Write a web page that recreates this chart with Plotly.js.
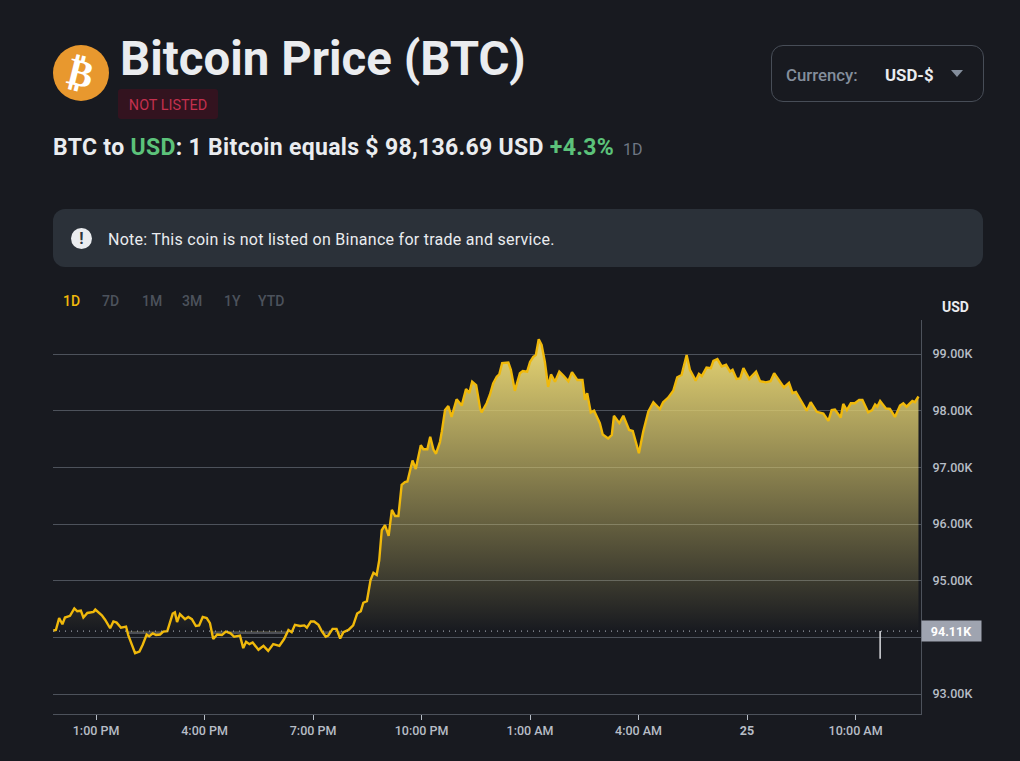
<!DOCTYPE html>
<html>
<head>
<meta charset="utf-8">
<script src="https://cdn.plot.ly/plotly-3.0.1.min.js"></script>
<style>
    body { margin: 0; background: #181a20; font-family: Roboto, sans-serif; }
    #page { position: relative; width: 1020px; height: 761px; overflow: hidden; }
    #page > div, #page > span { position: absolute; white-space: nowrap; }
    #chart { left: 0; top: 0; width: 1020px; height: 761px; }
    #logo { left: 53px; top: 45px; width: 56px; height: 56px; border-radius: 50%; background: #e8982e; color: #fff; font: bold 38px/56px "DejaVu Sans"; text-align: center; }
    #logo span { display: inline-block; transform: rotate(14deg); }
    #title { left: 120px; top: 31px; font-size: 47.4px; line-height: 56px; font-weight: 700; color: #eaecef; }
    #badge { left: 118px; top: 89px; width: 100px; height: 30px; border-radius: 3px; background: #33131f; color: #c4304e; font-size: 14.4px; line-height: 33px; text-align: center; }
    #rate { left: 53px; top: 133px; font-size: 23px; line-height: 30px; font-weight: 700; letter-spacing: 0.32px; color: #eaecef; }
    #rate i { font-style: normal; color: #5cc27a; }
    #rate small { font-size: 16px; font-weight: 400; letter-spacing: 0; color: #6f7784; margin-left: 3px; }
    #note { left: 53px; top: 209px; width: 930px; height: 58px; border-radius: 12px; background: #2b3139; }
    #noteIcon { left: 71px; top: 228px; width: 21px; height: 21px; border-radius: 50%; background: #eaecef; color: #2b3139; font: bold 16px/21px Roboto; text-align: center; }
    #noteText { left: 108px; top: 229px; font-size: 16px; line-height: 22px; letter-spacing: 0.27px; color: #eaecef; }
    .tab { top: 292px; font-size: 14px; line-height: 18px; font-weight: 500; color: #4c525c; }
    #currency { left: 771px; top: 45px; width: 211px; height: 55px; border: 1px solid #474d57; border-radius: 12px; }
    #curLabel { left: 786px; top: 64px; font-size: 16.8px; line-height: 22px; font-weight: 500; color: #848e9c; }
    #curValue { left: 885px; top: 64px; font-size: 16.8px; line-height: 22px; font-weight: 700; color: #eaecef; }
    #caret { left: 951px; top: 70px; width: 0; height: 0; border-left: 6px solid transparent; border-right: 6px solid transparent; border-top: 7px solid #848e9c; }
</style>
</head>
<body>
<div id="page">
    <div id="chart"></div>
    <div id="logo"><span>₿</span></div>
    <div id="title">Bitcoin Price (BTC)</div>
    <div id="badge">NOT LISTED</div>
    <div id="rate">BTC to <i>USD</i>: 1 Bitcoin equals $ 98,136.69 USD <i>+4.3%</i> <small>1D</small></div>
    <div id="note"></div>
    <div id="noteIcon">!</div>
    <div id="noteText">Note: This coin is not listed on Binance for trade and service.</div>
    <span class="tab" style="left:63px;color:#f0b90b">1D</span>
    <span class="tab" style="left:102px">7D</span>
    <span class="tab" style="left:142px">1M</span>
    <span class="tab" style="left:182px">3M</span>
    <span class="tab" style="left:224px">1Y</span>
    <span class="tab" style="left:258px">YTD</span>
    <div id="currency"></div>
    <div id="curLabel">Currency:</div>
    <div id="curValue">USD-$</div>
    <div id="caret"></div>
</div>
<script>
// hours counted from midnight of the first day, price in thousands of USD
let hours = [
    11.82, 11.89, 11.98, 12.07, 12.14, 12.28, 12.40, 12.48, 12.58, 12.65, 12.76, 12.93, 12.98,
    13.16, 13.25, 13.39, 13.48, 13.57, 13.69, 13.83, 13.89, 13.99,
    14.08, 14.20, 14.29, 14.40, 14.47, 14.57, 14.66, 14.77, 14.86, 14.97,
    15.03, 15.12, 15.18, 15.24, 15.32, 15.46, 15.55, 15.65, 15.76, 15.85, 15.95,
    16.06, 16.15, 16.24, 16.35, 16.48, 16.59, 16.72, 16.82, 16.98,
    17.07, 17.15, 17.24, 17.33, 17.49, 17.63, 17.76, 17.90,
    18.07, 18.20, 18.32, 18.41, 18.50, 18.64, 18.76, 18.83, 18.94,
    19.03, 19.15, 19.24, 19.35, 19.42, 19.54, 19.65, 19.75, 19.84, 19.98,
    20.11, 20.22, 20.32, 20.39, 20.49, 20.59, 20.67, 20.76, 20.83, 20.90, 20.99,
    21.09, 21.18, 21.27, 21.36, 21.45, 21.54, 21.61, 21.75, 21.84, 21.98,
    22.05, 22.16, 22.24, 22.33, 22.40, 22.51, 22.56, 22.65, 22.74, 22.83, 22.97,
    23.11, 23.23, 23.32, 23.40, 23.51, 23.62, 23.66, 23.80, 23.89, 23.98,
    24.08, 24.15, 24.23, 24.40, 24.47, 24.58, 24.72, 24.80, 24.92,
    25.00, 25.09, 25.16, 25.24, 25.32, 25.41, 25.50, 25.58, 25.69, 25.81, 25.92,
    26.06, 26.16, 26.31, 26.45, 26.52, 26.58, 26.68, 26.77, 26.93,
    27.01, 27.16, 27.26, 27.32, 27.47, 27.58, 27.74, 27.84, 27.95,
    28.01, 28.13, 28.27, 28.41, 28.59, 28.68, 28.82, 28.96,
    29.07, 29.19, 29.33, 29.42, 29.58, 29.67, 29.75, 29.88,
    30.00, 30.07, 30.18, 30.30, 30.42, 30.53, 30.60, 30.71, 30.81, 30.90,
    31.06, 31.25, 31.36, 31.52, 31.65, 31.75, 31.86,
    32.02, 32.16, 32.26, 32.35, 32.51, 32.65, 32.76, 32.93,
    33.11, 33.25, 33.34, 33.43, 33.59, 33.66, 33.76, 33.87, 33.98,
    34.10, 34.19, 34.35, 34.46, 34.54, 34.60, 34.68, 34.84, 34.95,
    35.09, 35.23, 35.32, 35.41, 35.57, 35.64, 35.74
];
let prices = [
    94.12, 94.13, 94.34, 94.23, 94.35, 94.38, 94.51, 94.46, 94.47, 94.35, 94.43, 94.45, 94.49,
    94.39, 94.31, 94.16, 94.28, 94.26, 94.17, 94.19, 94.04, 93.87,
    93.72, 93.75, 93.87, 94.05, 94.02, 94.07, 94.04, 94.05, 94.10, 94.11,
    94.22, 94.42, 94.44, 94.27, 94.41, 94.32, 94.36, 94.32, 94.20, 94.21, 94.36,
    94.34, 94.25, 93.97, 94.05, 94.04, 94.10, 94.07, 94.01, 94.03,
    93.81, 93.92, 93.88, 93.91, 93.78, 93.85, 93.76, 93.88,
    93.85, 93.97, 94.13, 94.09, 94.22, 94.20, 94.21, 94.17, 94.28,
    94.28, 94.22, 94.11, 94.01, 94.03, 94.15, 94.15, 93.98, 94.09, 94.13,
    94.21, 94.42, 94.46, 94.61, 94.64, 95.01, 95.14, 95.10, 95.36, 95.89, 95.98,
    95.79, 96.25, 96.14, 96.14, 96.69, 96.74, 96.75, 97.12, 96.97, 97.39,
    97.32, 97.32, 97.54, 97.31, 97.24, 97.45, 97.63, 98.01, 98.08, 97.89, 98.20,
    98.09, 98.38, 98.31, 98.51, 98.45, 98.04, 97.97, 98.13, 98.28, 98.48,
    98.60, 98.64, 98.84, 98.85, 98.72, 98.35, 98.66, 98.70, 98.69,
    98.86, 98.95, 98.98, 99.26, 99.16, 98.86, 98.42, 98.64, 98.51, 98.69, 98.62,
    98.52, 98.68, 98.54, 98.54, 98.19, 98.31, 97.97, 98.00, 97.78,
    97.58, 97.51, 97.57, 97.91, 97.78, 97.91, 97.66, 97.64, 97.39,
    97.25, 97.63, 97.98, 98.15, 98.03, 98.15, 98.23, 98.35,
    98.59, 98.63, 98.98, 98.72, 98.53, 98.65, 98.61, 98.76,
    98.75, 98.88, 98.91, 98.78, 98.81, 98.69, 98.72, 98.56, 98.57, 98.75,
    98.56, 98.69, 98.52, 98.50, 98.52, 98.66, 98.56,
    98.41, 98.49, 98.31, 98.33, 98.16, 98.00, 98.15, 97.98,
    97.95, 97.82, 98.01, 98.02, 97.88, 98.12, 98.01, 98.13, 98.13,
    98.19, 98.19, 97.97, 98.01, 98.11, 98.07, 98.17, 98.04, 98.03,
    97.89, 98.09, 98.13, 98.07, 98.17, 98.15, 98.25
];
let basePrice = 94.11;
let baseHours = [11.82, 35.74];
let markerHour = 34.68;
let markerLow = 93.62;

let xTicks = [13, 16, 19, 22, 25, 28, 31, 34];
let xLabels = ['1:00 PM', '4:00 PM', '7:00 PM', '10:00 PM', '1:00 AM', '4:00 AM', '<b>25</b>', '10:00 AM'];
let yTicks = [93, 94, 95, 96, 97, 98, 99];
let yLabels = ['93.00K', '', '95.00K', '96.00K', '97.00K', '98.00K', '99.00K'];

let baseTrace = {
    x: baseHours,
    y: [basePrice, basePrice],
    mode: 'lines',
    line: { width: 0 },
    hoverinfo: 'skip'
};

let priceTrace = {
    x: hours,
    y: prices,
    mode: 'lines',
    fill: 'tonexty',
    fillgradient: {
        type: 'vertical',
        start: 94,
        stop: 99.3,
        // the thin grey band just under the base line shows where the price dips below it
        colorscale: [
            [0, 'rgba(90,92,98,0)'],
            [0.0094, 'rgba(90,92,98,0)'],
            [0.0113, 'rgba(90,92,98,0.8)'],
            [0.017, 'rgba(90,92,98,0.8)'],
            [0.0208, 'rgba(222,205,112,0)'],
            [0.94, 'rgba(222,205,112,1)'],
            [1, 'rgba(222,205,112,1)']
        ]
    },
    line: { color: '#f0b90b', width: 2.4 }
};

let layout = {
    width: 1020,
    height: 761,
    margin: { l: 53, r: 99, t: 320, b: 47 },
    paper_bgcolor: 'rgba(0,0,0,0)',
    plot_bgcolor: 'rgba(0,0,0,0)',
    showlegend: false,
    font: { family: 'Roboto, sans-serif', size: 12.5, color: '#b7bdc6', weight: 500 },
    xaxis: {
        range: [11.81, 35.81],
        tickmode: 'array',
        tickvals: xTicks,
        ticktext: xLabels,
        ticks: 'outside',
        ticklen: 5,
        tickcolor: '#b7bdc6',
        showgrid: false,
        zeroline: false,
        showline: true,
        linecolor: '#4d525b',
        linewidth: 1
    },
    yaxis: {
        range: [92.647, 99.6],
        side: 'right',
        tickmode: 'array',
        tickvals: yTicks,
        ticktext: yLabels,
        ticks: '',
        ticklabelstandoff: 8,
        gridcolor: '#4d525b',
        gridwidth: 1,
        zeroline: false,
        showline: true,
        linecolor: '#4d525b',
        linewidth: 1
    },
    shapes: [
        { type: 'line', xref: 'paper', x0: 0, x1: 1, y0: basePrice, y1: basePrice, line: { color: '#b7bdc6', width: 1, dash: '1px,5px' } },
        { type: 'line', x0: markerHour, x1: markerHour, y0: basePrice, y1: markerLow, line: { color: '#d8dade', width: 1.5 } }
    ],
    annotations: [
        { xref: 'paper', x: 1, xanchor: 'left', y: basePrice, yanchor: 'middle', text: '<b>94.11K</b>', showarrow: false, width: 57, height: 18, bgcolor: '#9fa4b0', font: { size: 12.5, color: '#fff' } },
        { xref: 'paper', yref: 'paper', x: 1, xanchor: 'center', xshift: 34, y: 1, yanchor: 'middle', yshift: 13, text: '<b>USD</b>', showarrow: false, font: { size: 14, color: '#eaecef' } }
    ]
};

Plotly.newPlot('chart', [baseTrace, priceTrace], layout, { displayModeBar: false, staticPlot: true });
</script>
</body>
</html>
